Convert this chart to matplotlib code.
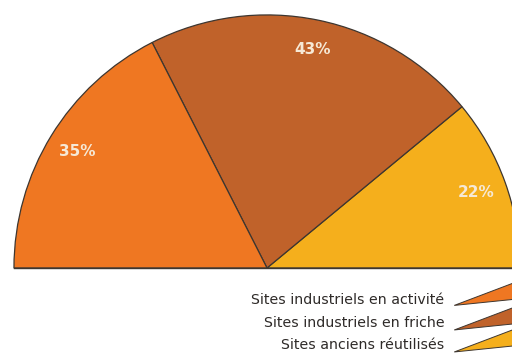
import matplotlib.pyplot as plt
from matplotlib.patches import Polygon

# parts of the sites, in percent (upper half-disc only)
categories = ['Sites anciens réutilisés', 'Sites industriels en friche', 'Sites industriels en activité']
values = [22, 43, 35]
colors = ['#F5AF1C', '#C0622A', '#EF7722']

legend_order = ['Sites industriels en activité', 'Sites industriels en friche', 'Sites anciens réutilisés']
legend_colors = ['#EF7722', '#C0622A', '#F5AF1C']

plt.rcParams['font.family'] = ['Liberation Sans Narrow', 'DejaVu Sans Condensed', 'DejaVu Sans']

fig = plt.figure(figsize=(5.12, 3.54), dpi=100)
ax = fig.add_axes([0, 0, 1, 1])

# a hidden 100 fills the lower half so the shown parts span 180 degrees
wedges, texts, autotexts = ax.pie(
    values + [100], colors=colors + ['none'], startangle=0, counterclock=True,
    radius=1.0, autopct=lambda p: '', pctdistance=0.88,
    wedgeprops=dict(edgecolor='#3d3630', linewidth=0.9))
wedges[-1].set_visible(False)

for t, v in zip(autotexts[:3], values):
    t.set_text(f'{v}%')
    t.set_color('#F6E9D6')
    t.set_fontsize(11)
    t.set_fontweight('bold')
autotexts[-1].set_text('')

ax.plot([-1.0, 1.2], [0, 0], color='#3d3630', lw=1.0)

ax.set_xlim(-1.055, 0.968)
ax.set_ylim(-0.340, 1.059)
ax.axis('off')

# legend: text on the left, slanted wedge on the right
text_y = [-0.126, -0.219, -0.306]
tip_y = [-0.148, -0.245, -0.332]
for lab, col, y, yt in zip(legend_order, legend_colors, text_y, tip_y):
    ax.text(0.70, y, lab, ha='right', va='center', fontsize=10.2, color='#2e2a28')
    tri = Polygon([(0.740, yt), (0.975, yt + 0.089), (0.975, yt + 0.024)],
                  closed=True, facecolor=col, edgecolor='#3d3630', linewidth=0.7)
    ax.add_patch(tri)

fig.savefig('out.png', dpi=100)
